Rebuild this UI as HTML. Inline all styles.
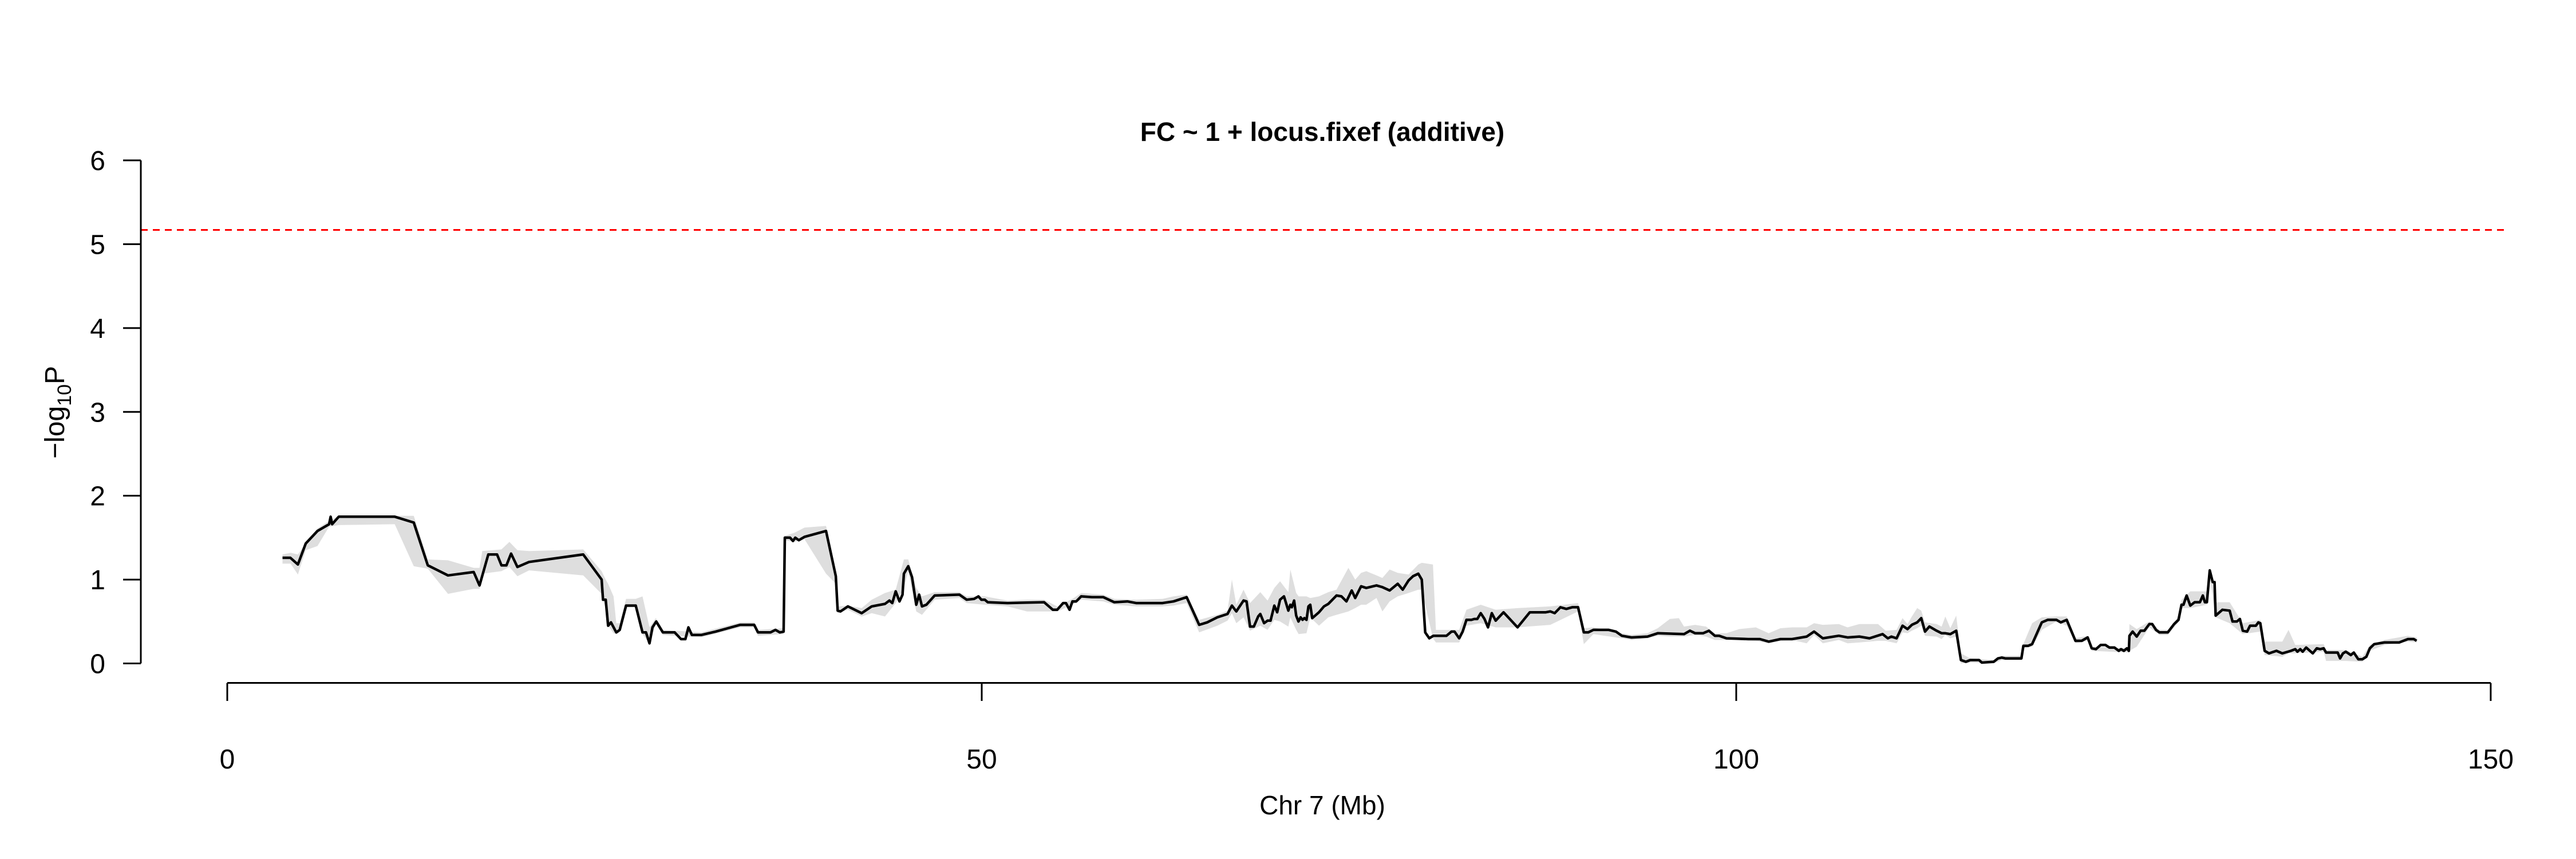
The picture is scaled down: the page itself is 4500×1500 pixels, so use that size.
<!DOCTYPE html>
<html><head><meta charset="utf-8"><style>
html,body{margin:0;padding:0;background:#fff;}
svg{display:block;font-family:"Liberation Sans",Arial,sans-serif;}
</style></head><body>
<svg id="chart" width="4500" height="1500" viewBox="0 0 4500 1500" xmlns="http://www.w3.org/2000/svg">
<rect x="0" y="0" width="4500" height="1500" fill="#fff"/>
<text x="2310" y="246" text-anchor="middle" font-size="46" font-weight="bold">FC ~ 1 + locus.fixef (additive)</text>
<text x="2310" y="1422" text-anchor="middle" font-size="46">Chr 7 (Mb)</text>
<text transform="translate(112,720) rotate(-90)" text-anchor="middle" font-size="48">−log<tspan font-size="34" dy="12">10</tspan><tspan dy="-12">P</tspan></text>
<g id="band"></g>
<g id="line"></g>
<g id="axes"></g>
</svg>
<script>
const yTicks=[0,1,2,3,4,5,6];
const xTicks=[0,50,100,150];
const threshold=[5.17];
const pos=[3.66,4.18,4.68,5.2,5.98,6.75,6.85,6.95,7.39,11.1,12.36,13.29,14.63,16.33,16.72,17.3,17.88,18.17,18.5,18.81,19.23,20.0,23.59,24.81,24.9,25.08,25.24,25.43,25.78,26.01,26.43,27.07,27.52,27.75,27.98,28.18,28.43,28.87,29.65,30.07,30.36,30.56,30.79,31.43,32.36,
34.0,34.92,35.17,36.0,36.33,36.62,36.87,36.95,37.3,37.49,37.64,37.88,38.26,39.68,40.33,40.45,40.64,41.13,42.04,42.71,43.59,43.88,44.07,44.3,44.55,44.75,44.84,45.13,45.38,45.66,45.85,46.04,46.33,46.88,48.52,49.0,49.49,49.78,49.97,50.2,50.4,51.71,54.13,54.71,55.0,55.39,55.58,55.82,56.01,56.26,56.59,57.33,58.06,58.78,59.65,60.23,61.97,62.71,
63.58,64.41,64.94,65.61,66.29,66.58,66.87,67.35,67.55,67.78,68.03,68.32,68.46,68.71,68.94,69.14,69.39,69.58,69.77,70.03,70.32,70.45,70.55,70.7,70.84,70.99,71.13,71.26,71.38,71.52,71.65,71.77,71.9,72.35,72.68,72.97,73.51,73.84,74.17,74.52,74.75,75.14,75.48,76.16,76.55,77.03,77.57,77.9,78.29,78.58,78.93,79.16,79.39,79.66,79.93,80.8,81.13,81.33,81.64,81.87,82.12,82.45,82.64,82.84,83.07,83.32,83.55,83.8,84.06,84.58,85.51,86.32,87.38,87.68,87.97,88.35,88.74,89.13,89.52,89.9,90.19,90.54,91.55,92.03,92.42,93.06,
94.12,94.8,96.54,96.93,97.28,97.8,98.19,98.58,98.87,99.35,100.8,101.57,102.15,102.93,103.7,104.67,105.16,105.74,106.8,107.38,108.16,108.83,109.7,110.05,110.28,110.63,111.02,111.35,111.64,111.99,112.26,112.51,112.8,113.28,113.61,113.86,114.19,114.58,114.89,115.22,115.51,116.09,116.28,117.06,117.35,117.6,117.83,118.22,118.9,119.03,119.34,119.61,120.25,120.64,121.22,121.51,121.9,122.48,122.9,123.29,
123.56,123.84,124.15,124.47,124.73,125.06,125.35,125.5,125.69,125.89,126.02,126.06,126.27,126.54,126.8,127.05,127.38,127.57,127.82,128.05,128.6,129.02,129.31,129.51,129.64,129.85,130.09,130.38,130.73,130.92,131.06,131.19,131.38,131.58,131.7,131.77,132.22,132.7,132.89,133.18,133.38,133.57,133.86,134.05,134.44,134.6,134.73,134.87,135.02,135.31,135.8,136.19,136.76,137.05,137.19,137.38,137.54,137.77,138.21,138.47,138.7,138.93,139.09,139.86,140.02,140.21,140.4,140.73,140.93,141.22,141.5,141.76,141.99,142.28,142.96,143.93,144.51,144.9,145.09];
const lod=[1.26,1.26,1.18,1.43,1.58,1.66,1.75,1.66,1.75,1.75,1.68,1.17,1.05,1.09,0.93,1.30,1.30,1.17,1.17,1.31,1.15,1.21,1.30,1.00,0.76,0.76,0.45,0.49,0.37,0.40,0.69,0.69,0.37,0.37,0.24,0.43,0.50,0.37,0.37,0.29,0.29,0.43,0.34,0.34,0.38,
0.46,0.46,0.37,0.37,0.40,0.37,0.38,1.50,1.50,1.46,1.50,1.47,1.51,1.58,1.04,0.63,0.62,0.68,0.60,0.68,0.71,0.75,0.72,0.86,0.74,0.82,1.07,1.16,1.03,0.70,0.82,0.68,0.70,0.81,0.82,0.76,0.77,0.80,0.76,0.76,0.73,0.72,0.73,0.64,0.64,0.72,0.72,0.64,0.74,0.74,0.80,0.79,0.79,0.73,0.74,0.72,0.72,0.74,
0.79,0.46,0.49,0.55,0.59,0.69,0.62,0.75,0.74,0.44,0.44,0.56,0.59,0.48,0.51,0.51,0.69,0.61,0.76,0.80,0.63,0.70,0.67,0.75,0.57,0.50,0.55,0.52,0.54,0.52,0.68,0.70,0.54,0.61,0.68,0.71,0.81,0.80,0.74,0.87,0.78,0.92,0.90,0.93,0.91,0.87,0.95,0.88,0.99,1.04,1.07,1.00,0.37,0.30,0.33,0.33,0.38,0.38,0.30,0.38,0.52,0.52,0.53,0.53,0.60,0.53,0.43,0.60,0.51,0.61,0.43,0.61,0.61,0.62,0.60,0.67,0.65,0.67,0.67,0.37,0.37,0.40,0.40,0.38,0.33,0.31,
0.32,0.36,0.35,0.39,0.36,0.36,0.39,0.33,0.33,0.30,0.29,0.29,0.26,0.29,0.29,0.32,0.38,0.30,0.33,0.31,0.32,0.30,0.35,0.30,0.32,0.30,0.45,0.41,0.46,0.49,0.54,0.38,0.44,0.39,0.36,0.36,0.35,0.39,0.04,0.02,0.04,0.04,0.01,0.02,0.06,0.07,0.06,0.06,0.06,0.21,0.21,0.23,0.49,0.52,0.52,0.49,0.52,0.27,0.27,0.31,
0.18,0.17,0.22,0.22,0.19,0.19,0.15,0.17,0.15,0.18,0.15,0.33,0.38,0.32,0.39,0.39,0.47,0.47,0.40,0.37,0.37,0.47,0.52,0.70,0.70,0.81,0.69,0.73,0.73,0.81,0.73,0.73,1.11,0.97,0.97,0.57,0.64,0.63,0.50,0.50,0.53,0.39,0.38,0.45,0.45,0.49,0.48,0.32,0.15,0.12,0.15,0.12,0.15,0.17,0.14,0.17,0.14,0.19,0.12,0.18,0.17,0.18,0.13,0.13,0.06,0.12,0.14,0.10,0.13,0.05,0.05,0.08,0.18,0.23,0.25,0.25,0.29,0.29,0.27];
const bandPos=[3.66,4.2,4.68,5.2,5.98,6.75,7.39,11.1,12.36,13.29,14.63,16.33,16.72,16.9,18.17,18.7,19.23,20.0,23.59,24.81,25.08,25.24,25.6,25.78,26.01,26.43,27.07,27.52,27.98,28.4,28.87,31.4,34.0,34.92,35.17,36.87,36.95,37.6,38.26,39.68,40.33,40.45,41.13,42.04,42.71,43.59,44.3,44.84,45.13,45.66,46.04,46.88,48.52,49.0,50.2,51.71,53.0,54.13,55.0,56.01,56.6,58.06,58.78,60.23,61.97,62.71,63.58,64.41,65.61,66.29,66.58,66.87,67.35,67.78,68.46,68.94,69.39,69.77,70.32,70.45,70.84,71.0,71.52,71.77,72.35,72.97,73.51,74.3,74.75,75.14,75.48,76.16,76.55,77.03,77.57,78.29,78.93,79.16,79.9,80.1,81.64,82.12,83.07,84.06,85.51,87.68,89.52,89.9,90.54,92.42,93.06,94.12,94.8,95.6,96.2,96.54,97.28,98.0,98.58,99.35,100.2,101.3,102.15,102.93,103.7,104.67,105.16,105.74,106.8,107.38,108.16,109.4,109.9,110.63,111.02,111.35,111.64,111.99,112.26,112.51,113.28,113.61,113.86,114.19,114.58,114.89,115.51,117.06,117.6,118.9,119.03,119.61,120.25,121.22,121.9,122.48,123.29,123.56,126.02,126.06,126.54,127.38,128.05,128.6,129.31,129.51,130.09,131.19,131.38,131.77,132.7,133.57,134.73,135.02,136.19,136.6,137.05,138.93,139.09,140.4,141.5,141.99,142.96,144.51,145.09];
const bandLo=[1.19,1.19,1.06,1.35,1.40,1.63,1.65,1.66,1.16,1.13,0.83,0.89,0.89,1.07,1.10,1.15,1.04,1.11,1.05,0.83,0.65,0.45,0.36,0.35,0.37,0.67,0.67,0.35,0.23,0.47,0.34,0.31,0.43,0.43,0.33,0.35,1.47,1.45,1.48,1.07,0.95,0.60,0.64,0.56,0.60,0.56,0.72,0.90,1.10,0.62,0.58,0.76,0.78,0.72,0.70,0.68,0.62,0.62,0.62,0.70,0.76,0.74,0.70,0.68,0.68,0.69,0.72,0.37,0.45,0.51,0.60,0.48,0.55,0.39,0.45,0.40,0.52,0.50,0.44,0.55,0.40,0.35,0.36,0.55,0.45,0.55,0.58,0.62,0.66,0.70,0.70,0.78,0.62,0.74,0.80,0.84,0.88,0.88,0.30,0.25,0.25,0.45,0.48,0.43,0.43,0.46,0.62,0.23,0.35,0.30,0.28,0.30,0.33,0.32,0.32,0.32,0.34,0.32,0.28,0.28,0.28,0.27,0.24,0.27,0.28,0.24,0.34,0.24,0.28,0.24,0.25,0.27,0.27,0.24,0.37,0.36,0.39,0.42,0.45,0.33,0.32,0.29,0.34,0.30,0.32,0.00,0.01,0.00,0.04,0.04,0.18,0.20,0.40,0.50,0.45,0.24,0.27,0.15,0.13,0.15,0.20,0.43,0.34,0.34,0.49,0.66,0.66,0.70,1.05,0.55,0.48,0.35,0.38,0.10,0.08,0.12,0.12,0.14,0.03,0.03,0.02,0.15,0.22,0.26,0.25];
const bandHi=[1.30,1.32,1.30,1.43,1.61,1.70,1.76,1.76,1.76,1.24,1.23,1.14,1.14,1.34,1.36,1.45,1.35,1.34,1.36,1.10,1.00,0.95,0.80,0.48,0.48,0.77,0.77,0.80,0.43,0.54,0.40,0.37,0.49,0.49,0.40,0.42,1.52,1.56,1.62,1.64,1.05,0.68,0.69,0.66,0.76,0.84,0.88,1.24,1.24,0.90,0.80,0.85,0.85,0.80,0.80,0.75,0.76,0.76,0.68,0.77,0.84,0.82,0.77,0.76,0.77,0.80,0.82,0.52,0.58,0.63,1.00,0.70,0.88,0.72,0.85,0.75,0.90,0.98,0.85,1.12,0.84,0.80,0.80,0.78,0.80,0.85,0.88,1.14,1.00,1.08,1.10,1.05,1.02,1.12,1.08,1.06,1.18,1.20,1.18,0.40,0.40,0.64,0.70,0.64,0.66,0.68,0.72,0.42,0.43,0.36,0.34,0.36,0.42,0.53,0.54,0.44,0.46,0.44,0.36,0.36,0.41,0.43,0.36,0.42,0.43,0.43,0.48,0.46,0.47,0.43,0.47,0.47,0.39,0.40,0.54,0.47,0.56,0.66,0.63,0.49,0.47,0.44,0.56,0.42,0.57,0.12,0.06,0.04,0.09,0.09,0.23,0.48,0.55,0.56,0.56,0.30,0.33,0.20,0.18,0.47,0.41,0.50,0.40,0.40,0.56,0.76,0.86,0.86,1.11,0.73,0.73,0.48,0.52,0.26,0.26,0.40,0.22,0.23,0.16,0.16,0.08,0.22,0.28,0.33,0.31];

const NS='http://www.w3.org/2000/svg';
const X0=397,X1=4351,Y0=1158.5,Y6=280;
function xScale(v){return X0+(v-0)*(X1-X0)/150;}
function yScale(v){return Y0-(v-0)*(Y0-Y6)/6;}
function mk(tag,attrs,parent){const e=document.createElementNS(NS,tag);for(const k in attrs)e.setAttribute(k,attrs[k]);parent.appendChild(e);return e;}

let d='';
for(let i=0;i<bandPos.length;i++)d+=(i?'L':'M')+xScale(bandPos[i]).toFixed(1)+' '+yScale(bandHi[i]).toFixed(1);
for(let i=bandPos.length-1;i>=0;i--)d+='L'+xScale(bandPos[i]).toFixed(1)+' '+yScale(bandLo[i]).toFixed(1);
d+='Z';
const bp=mk('path',{d:d,fill:'#dedede',stroke:'none'},document.getElementById('band'));



const pts=pos.map((p,i)=>xScale(p).toFixed(1)+','+yScale(lod[i]).toFixed(1)).join(' ');
const pl=mk('polyline',{points:pts,fill:'none',stroke:'#000','stroke-width':4.5,'stroke-linejoin':'round'},document.getElementById('line'));



const axes=document.getElementById('axes');
const th=mk('line',{x1:246,x2:4378,y1:yScale(threshold[0]),y2:yScale(threshold[0]),stroke:'#ff0000','stroke-width':3,'stroke-dasharray':'12 9'},axes);



const ya=mk('line',{x1:246,x2:246,y1:yScale(0),y2:yScale(6),stroke:'#000','stroke-width':3},axes);


yTicks.forEach(t=>{
  const tk=mk('line',{x1:215,x2:246,y1:yScale(t),y2:yScale(t),stroke:'#000','stroke-width':3},axes);
  
  
  const tl=mk('text',{x:184,y:yScale(t)+17,'text-anchor':'end','font-size':48},axes);
  tl.textContent=String(t);
  
  
});
const xa=mk('line',{x1:xScale(0),x2:xScale(150),y1:1192.5,y2:1192.5,stroke:'#000','stroke-width':3},axes);


xTicks.forEach(t=>{
  const tk=mk('line',{x1:xScale(t),x2:xScale(t),y1:1192.5,y2:1224,stroke:'#000','stroke-width':3},axes);
  
  
  const tl=mk('text',{x:xScale(t),y:1342,'text-anchor':'middle','font-size':48},axes);
  tl.textContent=String(t);
  
  
});
</script>
</body></html>
